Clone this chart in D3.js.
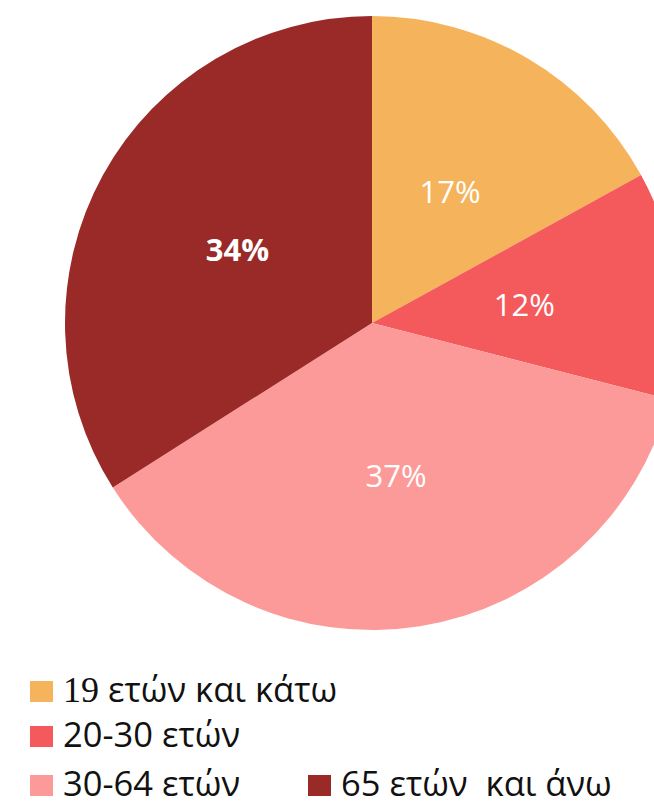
<!DOCTYPE html>
<html><head><meta charset="utf-8">
<script src="https://cdn.jsdelivr.net/npm/d3@7"></script>
<style>body{margin:0;background:#fff;}svg{display:block;}</style>
</head><body>
<svg id="c" width="654" height="808"></svg>
<script>
const categories = ["19 ετών και κάτω", "20-30 ετών", "30-64 ετών", "65 ετών  και άνω"];
const values = [17, 12, 37, 34];
const labels = ["17%", "12%", "37%", "34%"];
const colors = ["#F5B35B", "#F45A5B", "#FC9A99", "#992A27"];

const svg = d3.select("#c");
const cx = 372, cy = 323, R = 307;
const g = svg.append("g").attr("transform", `translate(${cx},${cy})`);
const pie = d3.pie().sort(null).value(d => d)(values);
const arc = d3.arc().innerRadius(0).outerRadius(R);
const labelArc = d3.arc().innerRadius(R * 0.5).outerRadius(R * 0.5);

g.selectAll("path").data(pie).join("path")
  .attr("d", arc).attr("fill", (d, i) => colors[i]);

g.selectAll("text").data(pie).join("text")
  .attr("x", d => labelArc.centroid(d)[0])
  .attr("y", d => labelArc.centroid(d)[1])
  .attr("text-anchor", "middle").attr("dominant-baseline", "central")
  .attr("fill", "#fff")
  .attr("font-family", "'Open Sans', sans-serif")
  .attr("font-size", 31)
  .attr("font-weight", (d, i) => i === 3 ? 700 : 400)
  .text((d, i) => labels[i]);

// [x, baseline]
const legendPos = [[30, 702], [30, 747], [30, 796], [308, 796]];
const lg = svg.append("g");
categories.forEach((c, i) => {
  const [x, y] = legendPos[i];
  lg.append("rect").attr("x", x).attr("y", y - 21).attr("width", 23).attr("height", 21).attr("fill", colors[i]);
  const t = lg.append("text").attr("x", x + 33).attr("y", y)
    .attr("font-family", "'Open Sans', sans-serif").attr("font-size", 34.5).attr("fill", "#111")
    .style("white-space", "pre");
  if (i === 0) {
    const sp = c.indexOf(" ");
    t.append("tspan").attr("font-family", "'Liberation Serif', serif").attr("font-size", 36).text(c.slice(0, sp));
    t.append("tspan").text(c.slice(sp));
  } else {
    t.text(c);
  }
});
</script>
</body></html>
